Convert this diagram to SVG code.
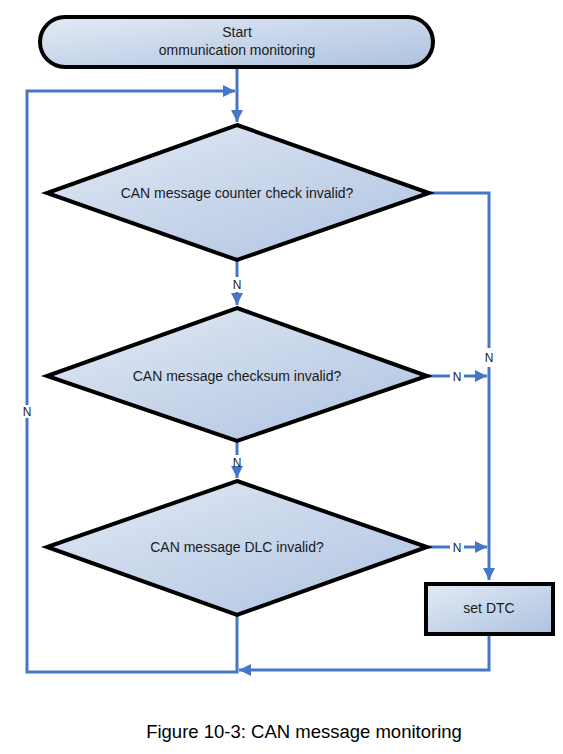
<svg xmlns="http://www.w3.org/2000/svg" width="563" height="754" viewBox="0 0 563 754">
<defs>
<linearGradient id="g" x1="0" y1="0" x2="1" y2="1">
<stop offset="0" stop-color="#e3eaf5"/>
<stop offset="1" stop-color="#adc2e0"/>
</linearGradient>
<marker id="a" viewBox="0 0 10 10" refX="10" refY="5" markerWidth="4" markerHeight="4" orient="auto" markerUnits="strokeWidth">
<path d="M0,0 L10,5 L0,10 z" fill="#4577c6"/>
</marker>
<style>
.n{fill:url(#g);stroke:#000;stroke-width:4;stroke-linejoin:miter}
.c{fill:none;stroke:#4577c6;stroke-width:3}
.t{font-family:"Liberation Sans",Arial,sans-serif;font-size:14px;fill:#1a1a1a;text-anchor:middle}
.l{font-family:"Liberation Sans",Arial,sans-serif;font-size:12px;fill:#1a1a1a;text-anchor:middle}
</style>
</defs>
<rect width="563" height="754" fill="#fff"/>
<g id="connectors">
<path class="c" d="M237,68 V122" marker-end="url(#a)"/>
<path class="c" d="M27,405 V91 H235" marker-end="url(#a)"/>
<path class="c" d="M237,260 V277"/>
<path class="c" d="M237,292 V305" marker-end="url(#a)"/>
<path class="c" d="M237,441 V455"/>
<path class="c" d="M237,469 V478" marker-end="url(#a)"/>
<path class="c" d="M429,193 H489 V348"/>
<path class="c" d="M489,367 V580" marker-end="url(#a)"/>
<path class="c" d="M427,376 H450"/>
<path class="c" d="M464,376 H487" marker-end="url(#a)"/>
<path class="c" d="M427,547 H450"/>
<path class="c" d="M464,547 H487" marker-end="url(#a)"/>
<path class="c" d="M489,634 V670 H239" marker-end="url(#a)"/>
<path class="c" d="M237,615 V672 H27 V418"/>
</g>
<g id="start">
<rect class="n" x="40" y="17" width="393" height="50" rx="25"/>
<text class="t" x="237" y="37">Start</text>
<text class="t" x="237" y="55">ommunication monitoring</text>
</g>
<g id="d1">
<polygon class="n" points="237,125 429,193 237,260 47,193"/>
<text class="t" x="237" y="198">CAN message counter check invalid?</text>
</g>
<g id="d2">
<polygon class="n" points="237,308 427,376 237,441 47,376"/>
<text class="t" x="237" y="381">CAN message checksum invalid?</text>
</g>
<g id="d3">
<polygon class="n" points="237,481 427,547 237,615 47,547"/>
<text class="t" x="237" y="552">CAN message DLC invalid?</text>
</g>
<g id="dtc">
<rect class="n" x="426" y="584" width="127" height="50"/>
<text class="t" x="489" y="613">set DTC</text>
</g>
<g id="labels">
<text class="l" x="237" y="289">N</text>
<text class="l" x="237" y="467">N</text>
<text class="l" x="489" y="362">N</text>
<text class="l" x="457" y="381">N</text>
<text class="l" x="457" y="552">N</text>
<text class="l" x="27" y="416">N</text>
</g>
<text x="304" y="738" font-family="Liberation Sans, Arial, sans-serif" font-size="18.5" text-anchor="middle" fill="#000">Figure 10-3: CAN message monitoring</text>
</svg>
